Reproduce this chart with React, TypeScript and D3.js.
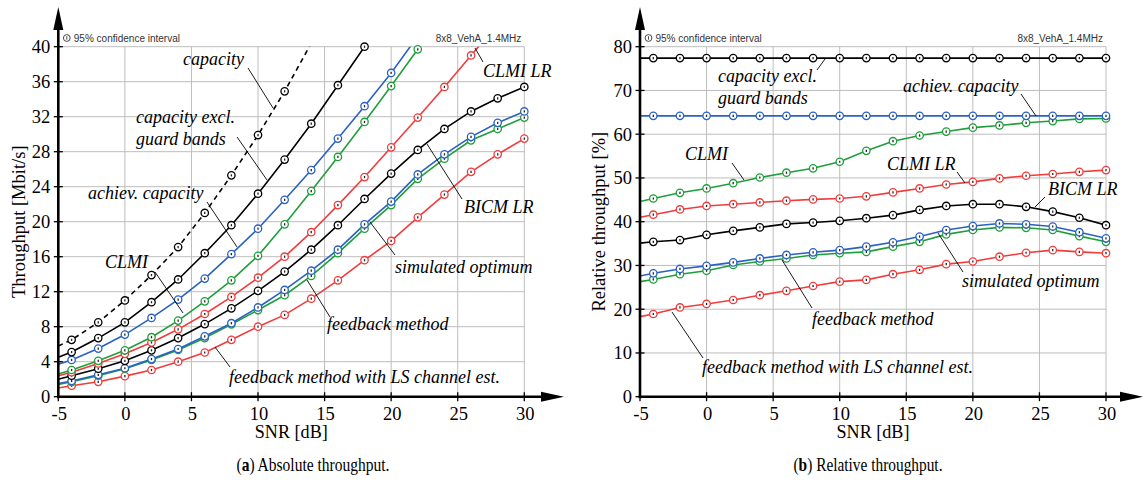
import React from "react";
import * as d3 from "d3";

// ---------- data ----------
const SNR = [-5, -4, -2, 0, 2, 4, 6, 8, 10, 12, 14, 16, 18, 20, 22, 24, 26, 28, 30];

// (a) absolute throughput [Mbit/s]
const capacityAbs = [5.8, 6.5, 8.5, 11.0, 13.9, 17.1, 21.0, 25.3, 29.9, 34.9, 40.4, null, null, null, null, null, null, null, null];
const capExclAbs = [4.5, 5.1, 6.7, 8.5, 10.8, 13.4, 16.4, 19.6, 23.2, 27.1, 31.2, 35.6, 40.0, null, null, null, null, null, null];
const achievAbs = [3.7, 4.2, 5.5, 7.1, 9.0, 11.1, 13.5, 16.3, 19.2, 22.5, 25.9, 29.5, 33.2, 37.0, 41.2, null, null, null, null];
const clmiAbs = [2.6, 3.05, 4.1, 5.3, 6.8, 8.7, 10.9, 13.3, 16.1, 19.7, 23.5, 27.4, 31.4, 35.5, 39.7, null, null, null, null];
const clmiLrAbs = [2.4, 2.8, 3.8, 4.9, 6.2, 7.7, 9.45, 11.4, 13.6, 16.0, 18.8, 21.9, 25.1, 28.5, 31.9, 35.4, 39.0, 42.6, null];
const bicmLrAbs = [2.0, 2.4, 3.2, 4.1, 5.3, 6.7, 8.3, 10.1, 12.1, 14.3, 16.8, 19.6, 22.6, 25.5, 28.2, 30.6, 32.6, 34.1, 35.4];
const simOptAbs = [1.5, 1.8, 2.5, 3.25, 4.3, 5.45, 6.9, 8.4, 10.2, 12.2, 14.4, 16.8, 19.7, 22.3, 25.4, 27.7, 29.7, 31.3, 32.6];
const feedbackAbs = [1.4, 1.7, 2.4, 3.2, 4.2, 5.35, 6.7, 8.27, 9.9, 11.6, 13.8, 16.4, 19.2, 21.9, 24.9, 27.2, 29.3, 30.6, 31.9];
const lsAbs = [1.0, 1.25, 1.7, 2.35, 3.05, 4.0, 5.05, 6.5, 8.0, 9.35, 11.2, 13.3, 15.6, 17.8, 20.5, 23.1, 25.7, 27.7, 29.5];

// (b) relative throughput [%]
const capExclRel = [77.4, 77.4, 77.4, 77.4, 77.4, 77.4, 77.4, 77.4, 77.4, 77.4, 77.4, 77.4, 77.4, 77.4, 77.4, 77.4, 77.4, 77.4, 77.4];
const achievRel = [64.2, 64.2, 64.2, 64.2, 64.2, 64.2, 64.2, 64.2, 64.2, 64.2, 64.2, 64.2, 64.2, 64.2, 64.2, 64.2, 64.2, 64.2, 64.2];
const clmiRel = [44.6, 45.3, 46.6, 47.6, 48.8, 50.1, 51.2, 52.2, 53.7, 56.2, 58.4, 59.7, 60.6, 61.5, 62.0, 62.6, 63.0, 63.5, 63.6];
const clmiLrRel = [41.0, 41.6, 42.8, 43.6, 44.0, 44.4, 44.8, 45.1, 45.3, 45.8, 46.7, 47.6, 48.5, 49.1, 49.9, 50.5, 50.9, 51.4, 51.8];
const bicmLrRel = [35.1, 35.4, 35.8, 37.0, 37.9, 38.7, 39.5, 39.8, 40.2, 40.8, 41.5, 42.7, 43.6, 44.0, 44.0, 43.4, 42.3, 40.9, 39.2];
const simOptRel = [27.6, 28.2, 29.2, 29.9, 30.7, 31.6, 32.4, 33.0, 33.5, 34.3, 35.3, 36.6, 38.1, 39.0, 39.6, 39.4, 38.9, 37.6, 36.2];
const feedbackRel = [26.3, 26.8, 28.0, 28.8, 30.1, 30.9, 31.6, 32.4, 32.8, 33.1, 34.3, 35.4, 37.1, 38.1, 38.7, 38.6, 38.1, 36.7, 35.4];
const lsRel = [18.3, 18.9, 20.4, 21.2, 22.1, 23.2, 24.2, 25.3, 26.3, 26.7, 28.0, 29.0, 30.3, 30.9, 32.0, 32.9, 33.5, 33.1, 32.8];

const xTicks = [-5, 0, 5, 10, 15, 20, 25, 30];
const yTicksAbs = [0, 4, 8, 12, 16, 20, 24, 28, 32, 36, 40];
const yTicksRel = [0, 10, 20, 30, 40, 50, 60, 70, 80];

// ---------- styles ----------
const BLACK = "#000000";
const BLUE = "#2a62c4";
const GREEN = "#1f9f3b";
const RED = "#f23b3b";
const GRID = "#bdbdbd";
const SERIF = "'Liberation Serif', 'Times New Roman', serif";
const SANS = "'Liberation Sans', Arial, sans-serif";

type Series = { values: (number | null)[]; color: string; dashed?: boolean };

const absSeries: Series[] = [
  { values: lsAbs, color: RED },
  { values: feedbackAbs, color: GREEN },
  { values: simOptAbs, color: BLUE },
  { values: bicmLrAbs, color: BLACK },
  { values: clmiLrAbs, color: RED },
  { values: clmiAbs, color: GREEN },
  { values: achievAbs, color: BLUE },
  { values: capExclAbs, color: BLACK },
  { values: capacityAbs, color: BLACK, dashed: true },
];

const relSeries: Series[] = [
  { values: lsRel, color: RED },
  { values: feedbackRel, color: GREEN },
  { values: simOptRel, color: BLUE },
  { values: bicmLrRel, color: BLACK },
  { values: clmiLrRel, color: RED },
  { values: clmiRel, color: GREEN },
  { values: achievRel, color: BLUE },
  { values: capExclRel, color: BLACK },
];

type Ann = { lines: string[]; x: number; y: number; lead?: [number, number, number, number] };

const absAnn: Ann[] = [
  { lines: ["capacity"], x: 183, y: 65, lead: [248, 68, 273, 108] },
  { lines: ["capacity excl.", "guard bands"], x: 136, y: 123, lead: [237, 137, 267, 180] },
  { lines: ["achiev. capacity"], x: 88, y: 199, lead: [207, 202, 237, 247] },
  { lines: ["CLMI"], x: 105, y: 268, lead: [155, 272, 183, 313] },
  { lines: ["CLMI LR"], x: 483, y: 77, lead: [483, 62, 475, 48] },
  { lines: ["BICM LR"], x: 464, y: 213, lead: [462, 199, 427, 144] },
  { lines: ["simulated optimum"], x: 395, y: 273, lead: [395, 255, 370, 222] },
  { lines: ["feedback method"], x: 327, y: 330, lead: [330, 317, 307, 280] },
  { lines: ["feedback method with LS channel est."], x: 229, y: 383, lead: [230, 367, 215, 347] },
];

const relAnn: Ann[] = [
  { lines: ["capacity excl.", "guard bands"], x: 718, y: 82, lead: [817, 70, 825, 59] },
  { lines: ["achiev. capacity"], x: 903, y: 92, lead: [1021, 94, 1036, 116] },
  { lines: ["CLMI"], x: 685, y: 160, lead: [732, 163, 744, 180] },
  { lines: ["CLMI LR"], x: 887, y: 170, lead: [957, 172, 965, 183] },
  { lines: ["BICM LR"], x: 1048, y: 195, lead: [1045, 197, 1035, 207] },
  { lines: ["simulated optimum"], x: 962, y: 287, lead: [963, 272, 938, 233] },
  { lines: ["feedback method"], x: 812, y: 325, lead: [812, 308, 782, 260] },
  { lines: ["feedback method with LS channel est."], x: 702, y: 373, lead: [703, 358, 672, 312] },
];

type PanelProps = {
  id: string;
  x0: number;
  x1: number;
  yMax: number;
  yTicks: number[];
  series: Series[];
  ann: Ann[];
  yLabel: string;
  yLabelX: number;
  arrowTipX: number;
};

const Y_BOTTOM = 396.7;
const Y_TOP = 46.7;

function Panel(p: PanelProps) {
  const x = d3.scaleLinear().domain([-5, 30]).range([p.x0, p.x1]);
  const y = d3.scaleLinear().domain([0, p.yMax]).range([Y_BOTTOM, Y_TOP]);
  const line = d3
    .line<number | null>()
    .defined((d) => d !== null)
    .x((_, i) => x(SNR[i]))
    .y((d) => y(d as number));
  const fs = 18.5;
  return (
    <g>
      <defs>
        <clipPath id={p.id}>
          <rect x={p.x0} y={Y_TOP} width={p.x1 - p.x0} height={Y_BOTTOM - Y_TOP} />
        </clipPath>
      </defs>
      {/* grid */}
      {xTicks.map((t) => (
        <line key={"gx" + t} x1={x(t)} x2={x(t)} y1={Y_BOTTOM} y2={Y_TOP} stroke={GRID} strokeWidth={1} />
      ))}
      {p.yTicks.map((t) => (
        <line key={"gy" + t} x1={p.x0} x2={p.x1} y1={y(t)} y2={y(t)} stroke={GRID} strokeWidth={1} />
      ))}
      {/* small header texts */}
      <circle cx={p.x0 + 8.5} cy={38} r={3.4} fill="none" stroke="#333" strokeWidth={0.9} />
      <line x1={p.x0 + 8.5} x2={p.x0 + 8.5} y1={36.3} y2={39.7} stroke="#333" strokeWidth={0.9} />
      <text x={p.x0 + 15.5} y={41.5} fontFamily={SANS} fontSize={10} fill="#333">
        95% confidence interval
      </text>
      <text x={p.x1 - 3} y={41.5} fontFamily={SANS} fontSize={10} fill="#333" textAnchor="end">
        8x8_VehA_1.4MHz
      </text>
      {/* series lines */}
      <g clipPath={`url(#${p.id})`}>
        {p.series.map((s, i) => (
          <path
            key={"l" + i}
            d={line(s.values) || ""}
            fill="none"
            stroke={s.color}
            strokeWidth={1.6}
            strokeDasharray={s.dashed ? "5,4" : undefined}
          />
        ))}
      </g>
      {/* markers */}
      {p.series.map((s, i) => (
        <g key={"m" + i}>
          {s.values.map((v, j) =>
            v === null || SNR[j] % 2 !== 0 || v > p.yMax + 0.05 ? null : (
              <g key={j}>
                <circle cx={x(SNR[j])} cy={y(v)} r={3.7} fill="#fff" stroke={s.color} strokeWidth={1.3} />
                <line
                  x1={x(SNR[j])}
                  x2={x(SNR[j])}
                  y1={y(v) - 1.1}
                  y2={y(v) + 1.1}
                  stroke="#222"
                  strokeWidth={1.3}
                />
              </g>
            )
          )}
        </g>
      ))}
      {/* annotations */}
      {p.ann.map((a, i) => (
        <g key={"a" + i}>
          {a.lead && (
            <line x1={a.lead[0]} y1={a.lead[1]} x2={a.lead[2]} y2={a.lead[3]} stroke="#000" strokeWidth={0.9} />
          )}
          {a.lines.map((t, k) => (
            <text
              key={k}
              x={a.x}
              y={a.y + k * 22}
              fontFamily={SERIF}
              fontStyle="italic"
              fontSize={18}
              fill="#000"
            >
              {t}
            </text>
          ))}
        </g>
      ))}
      {/* axes */}
      <line x1={p.x0} x2={p.x0} y1={Y_BOTTOM + 1.5} y2={28} stroke="#000" strokeWidth={2.6} />
      <polygon points={`${p.x0},7 ${p.x0 - 5},30 ${p.x0 + 5},30`} fill="#000" />
      <line x1={p.x0 - 1.3} x2={p.arrowTipX - 20} y1={Y_BOTTOM} y2={Y_BOTTOM} stroke="#000" strokeWidth={2.6} />
      <polygon
        points={`${p.arrowTipX},${Y_BOTTOM} ${p.arrowTipX - 23},${Y_BOTTOM - 5} ${p.arrowTipX - 23},${Y_BOTTOM + 5}`}
        fill="#000"
      />
      {p.yTicks.map((t) => (
        <g key={"ty" + t}>
          <line x1={p.x0 - 4.5} x2={p.x0 + 4.5} y1={y(t)} y2={y(t)} stroke="#000" strokeWidth={1.3} />
          <text
            x={p.x0 - 8}
            y={y(t) + 6.3}
            fontFamily={SERIF}
            fontSize={fs}
            textAnchor="end"
            fill="#000"
          >
            {t}
          </text>
        </g>
      ))}
      {xTicks.map((t) => (
        <g key={"tx" + t}>
          <line x1={x(t)} x2={x(t)} y1={Y_BOTTOM - 4.5} y2={Y_BOTTOM + 4.5} stroke="#000" strokeWidth={1.3} />
          <text x={x(t) + 1} y={420} fontFamily={SERIF} fontSize={fs} textAnchor="middle" fill="#000">
            {t}
          </text>
        </g>
      ))}
      <text
        x={(p.x0 + p.x1) / 2}
        y={438}
        fontFamily={SERIF}
        fontSize={fs}
        textAnchor="middle"
        fill="#000"
        textLength={73}
        lengthAdjust="spacingAndGlyphs"
      >
        SNR [dB]
      </text>
      <text
        transform={`translate(${p.yLabelX},${(Y_TOP + Y_BOTTOM) / 2}) rotate(-90)`}
        fontFamily={SERIF}
        fontSize={fs}
        textAnchor="middle"
        fill="#000"
      >
        {p.yLabel}
      </text>
    </g>
  );
}

export default function App() {
  return (
    <svg
      width={1145}
      height={480}
      viewBox="0 0 1145 480"
      style={{ position: "absolute", left: 0, top: 0, background: "#fff" }}
    >
      <rect x={0} y={0} width={1145} height={480} fill="#fff" />
      <Panel
        id="clipA"
        x0={58.3}
        x1={524.3}
        yMax={40}
        yTicks={yTicksAbs}
        series={absSeries}
        ann={absAnn}
        yLabel="Throughput [Mbit/s]"
        yLabelX={24.5}
        arrowTipX={564}
      />
      <Panel
        id="clipB"
        x0={640}
        x1={1106}
        yMax={80}
        yTicks={yTicksRel}
        series={relSeries}
        ann={relAnn}
        yLabel="Relative throughput [%]"
        yLabelX={605}
        arrowTipX={1143}
      />
      <text
        x={313}
        y={471}
        fontFamily={SERIF}
        fontSize={19}
        textAnchor="middle"
        fill="#000"
        textLength={153}
        lengthAdjust="spacingAndGlyphs"
      >
        (<tspan fontWeight="bold">a</tspan>) Absolute throughput.
      </text>
      <text
        x={868}
        y={471}
        fontFamily={SERIF}
        fontSize={19}
        textAnchor="middle"
        fill="#000"
        textLength={149}
        lengthAdjust="spacingAndGlyphs"
      >
        (<tspan fontWeight="bold">b</tspan>) Relative throughput.
      </text>
    </svg>
  );
}
